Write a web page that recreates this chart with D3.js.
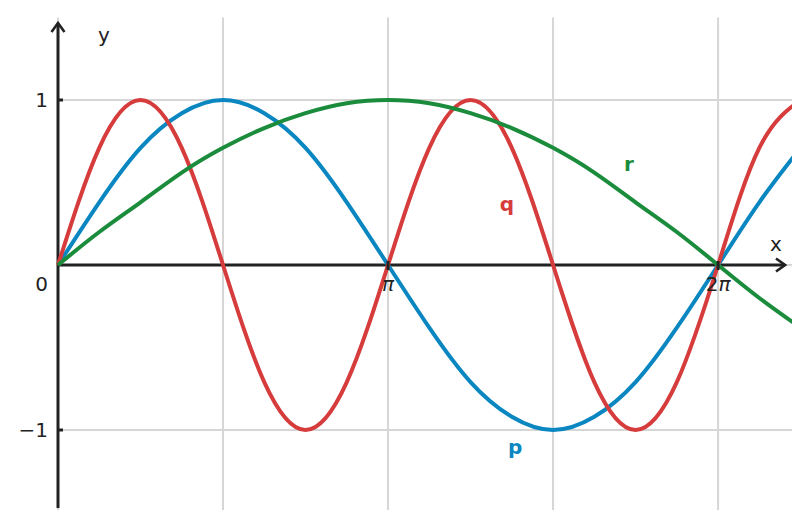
<!DOCTYPE html>
<html>
<head>
<meta charset="utf-8">
<script src="https://cdn.jsdelivr.net/npm/d3@7"></script>
<style>
  body { margin: 0; background: #fff; }
  svg { font-family: "DejaVu Sans", sans-serif; }
</style>
</head>
<body>
<svg width="810" height="530"></svg>
<script>
// x positions, in multiples of pi (step pi/8)
const xs = [0, 0.125, 0.25, 0.375, 0.5, 0.625, 0.75, 0.875, 1, 1.125, 1.25, 1.375, 1.5,
            1.625, 1.75, 1.875, 2, 2.125, 2.25];

// values at those positions
const pVals = [0, 0.38, 0.71, 0.92, 1, 0.92, 0.71, 0.38, 0, -0.38, -0.71, -0.92, -1,
               -0.92, -0.71, -0.38, 0, 0.38, 0.71];
const qVals = [0, 0.71, 1, 0.71, 0, -0.71, -1, -0.71, 0, 0.71, 1, 0.71, 0,
               -0.71, -1, -0.71, 0, 0.71, 1];
const rVals = [0, 0.2, 0.38, 0.56, 0.71, 0.83, 0.92, 0.98, 1, 0.98, 0.92, 0.83, 0.71,
               0.56, 0.38, 0.2, 0, -0.2, -0.38];

const seriesNames = ["p", "q", "r"];
const seriesColors = ["#0a86c0", "#d63c3c", "#1a8c3c"];
// where each name label sits (x in pi, y value)
const labelAt = [[1.385, -1.1], [1.36, 0.37], [1.73, 0.61]];

const xTicks = [1, 2];
const xTickCoef = ["", "2"];
const yTicks = [-1, 1];
const yTickLabels = ["\u22121", "1"];
const gridX = [0, 0.5, 1, 1.5, 2];
const gridY = [-1, 0, 1];

const svg = d3.select("svg");
const x = d3.scaleLinear().domain([0, 2.224]).range([58, 792]);
const y = d3.scaleLinear().domain([-1.5, 1.5]).range([512.5, 17.5]);

svg.append("defs").append("clipPath").attr("id", "plot")
  .append("rect")
    .attr("x", x(0) - 2).attr("y", y(1.5))
    .attr("width", x(2.224) - x(0) + 2).attr("height", y(-1.5) - y(1.5));

svg.select("defs").append("marker")
    .attr("id", "arrow")
    .attr("viewBox", "-12 -8 14 16")
    .attr("markerWidth", 14).attr("markerHeight", 16)
    .attr("markerUnits", "userSpaceOnUse")
    .attr("orient", "auto")
  .append("path")
    .attr("d", "M-9,-6.5L0,0L-9,6.5")
    .attr("fill", "none")
    .attr("stroke", "#222")
    .attr("stroke-width", 2.6);

// grid
const grid = svg.append("g").attr("stroke", "#d6d6d6").attr("stroke-width", 2);
grid.selectAll("line.v").data(gridX).join("line")
    .attr("class", "v")
    .attr("x1", d => x(d)).attr("x2", d => x(d))
    .attr("y1", y(1.5)).attr("y2", 510);
grid.selectAll("line.h").data(gridY).join("line")
    .attr("class", "h")
    .attr("x1", x(0)).attr("x2", x(2.224))
    .attr("y1", d => y(d)).attr("y2", d => y(d));

// axes
const axes = svg.append("g").attr("stroke", "#222").attr("stroke-width", 3);
axes.append("line")
    .attr("x1", x(0)).attr("x2", 785)
    .attr("y1", y(0)).attr("y2", y(0))
    .attr("marker-end", "url(#arrow)");
axes.append("line")
    .attr("x1", x(0)).attr("x2", x(0))
    .attr("y1", 508).attr("y2", 23)
    .attr("marker-end", "url(#arrow)");

// curves
const series = [pVals, qVals, rVals];
const line = d3.line()
    .x((d, i) => x(xs[i]))
    .y(d => y(d))
    .curve(d3.curveNatural);

svg.append("g").attr("clip-path", "url(#plot)")
  .selectAll("path")
  .data(series)
  .join("path")
    .attr("d", line)
    .attr("fill", "none")
    .attr("stroke", (d, i) => seriesColors[i])
    .attr("stroke-width", 4);

// tick marks
const ticks = svg.append("g").attr("stroke", "#222").attr("stroke-width", 3);
ticks.selectAll("line.xt").data(xTicks).join("line")
    .attr("class", "xt")
    .attr("x1", d => x(d)).attr("x2", d => x(d))
    .attr("y1", y(0) - 4).attr("y2", y(0) + 5);
ticks.selectAll("line.yt").data(yTicks).join("line")
    .attr("class", "yt")
    .attr("x1", x(0)).attr("x2", x(0) + 5)
    .attr("y1", d => y(d)).attr("y2", d => y(d));

// tick labels
const text = svg.append("g").attr("fill", "#222").attr("font-size", 20);
const xl = text.selectAll("text.xl").data(xTicks).join("text")
    .attr("class", "xl")
    .attr("x", d => x(d)).attr("y", y(0) + 26)
    .attr("text-anchor", "middle");
xl.append("tspan").text((d, i) => xTickCoef[i]);
xl.append("tspan").attr("font-style", "italic").text("\u03c0");
text.selectAll("text.yl").data(yTicks).join("text")
    .attr("class", "yl")
    .attr("x", x(0) - 10).attr("y", d => y(d) + 7)
    .attr("text-anchor", "end")
    .text((d, i) => yTickLabels[i]);
text.append("text")
    .attr("x", x(0) - 10).attr("y", y(0) + 26)
    .attr("text-anchor", "end")
    .text("0");
text.append("text")
    .attr("x", 776).attr("y", 251)
    .attr("text-anchor", "middle")
    .text("x");
text.append("text")
    .attr("x", 104).attr("y", 42)
    .attr("text-anchor", "middle")
    .text("y");

// series names
svg.append("g").attr("font-size", 20).attr("font-weight", "bold")
  .selectAll("text")
  .data(seriesNames)
  .join("text")
    .attr("x", (d, i) => x(labelAt[i][0]))
    .attr("y", (d, i) => y(labelAt[i][1]) + 7)
    .attr("text-anchor", "middle")
    .attr("fill", (d, i) => seriesColors[i])
    .text(d => d);
</script>
</body>
</html>
